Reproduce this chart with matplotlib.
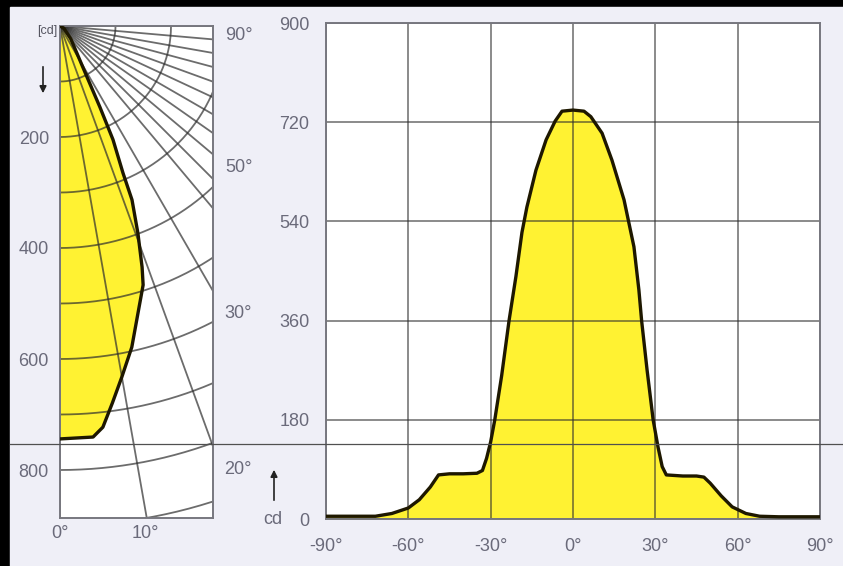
import numpy as np
import matplotlib
matplotlib.use("Agg")
import matplotlib.pyplot as plt
from matplotlib.patches import Rectangle, FancyArrowPatch
from matplotlib.lines import Line2D

plt.rcParams['font.family'] = ['Liberation Sans', 'DejaVu Sans']

W, H = 843, 566

# right plot: intensity curve (cd) vs angle
angles = [-90, -80, -72, -66, -60, -56, -52, -49, -45, -40, -35, -33, -31.5, -30,
          -28.5, -26, -23.3, -20.8, -18.6, -16.8, -13.5, -9.8, -6.5, -4, 0, 4, 6.5,
          10.6, 14.2, 18.6, 22.2, 24, 25, 27, 29.2, 31, 32.5, 34, 40, 45, 47.7, 50,
          54, 58, 63, 68, 75, 90]
values = [5, 5, 5, 10, 20, 35, 58, 80, 82, 82, 83, 88, 110, 140,
          180, 260, 360, 440, 520, 566, 633, 688, 722, 740, 742, 740, 730,
          700, 651, 579, 494, 416, 360, 270, 180, 130, 95, 80, 78, 78, 76, 65,
          42, 22, 10, 5, 4, 4]
x_ticks = [-90, -60, -30, 0, 30, 60, 90]
y_ticks = [0, 180, 360, 540, 720, 900]

# left polar diagram: intensity vs angle from the vertical
theta_polar = [0, 4.6, 6.1, 7.9, 10.0, 12.6, 15.2, 17.8, 18.8, 20.6, 22.5, 23.2,
               25.0, 26.2, 27.9, 32, 40, 60, 90]
intensity_polar = [744, 743, 727, 686, 642, 593, 536, 490, 459, 399, 339, 288,
                   226, 163, 104, 57, 30, 8, 0]
ray_angles = [0, 10, 20, 30, 40, 45, 50, 55, 60, 65, 70, 75, 80, 85, 90]
arc_radii = [100, 200, 300, 400, 500, 600, 700, 800, 900]
polar_ticks = [200, 400, 600, 800]

yellow = '#fff232'
curve_col = '#1e1800'
grid_col = '#2e2e2e'
label_col = '#6a6a7a'
fs = 13

fig = plt.figure(figsize=(W / 100, H / 100), dpi=100, facecolor='black')
fig.patches.append(Rectangle((10 / W, 0), (W - 10) / W, (H - 7) / H,
                             transform=fig.transFigure, color='#efeff7', zorder=-5))


def fx(x):
    return x / W


def fy(y):
    return 1 - y / H


# ---- right cartesian plot
ax = fig.add_axes([fx(326), fy(519), (820 - 326) / W, (519 - 23) / H])
ax.fill_between(angles, 0, values, color=yellow, lw=0, zorder=1)
ax.plot(angles, values, color=curve_col, lw=2.4, zorder=3, solid_joinstyle='round')
ax.set_xlim(-90, 90)
ax.set_ylim(0, 900)
ax.set_xticks(x_ticks)
ax.set_xticklabels([f"{t}°" for t in x_ticks])
ax.set_yticks(y_ticks)
ax.grid(color=grid_col, alpha=0.6, lw=1.3)
ax.tick_params(length=0, labelsize=fs, labelcolor=label_col)
ax.tick_params(axis='x', pad=14)
ax.tick_params(axis='y', pad=12)
for s in ax.spines.values():
    s.set_color('#77777f')
    s.set_linewidth(1.4)

# ---- left polar diagram
px_per_cd = 0.555
axl = fig.add_axes([fx(60), fy(518), 153 / W, (518 - 26) / H])
axl.set_xlim(0, 153 / px_per_cd)
axl.set_ylim((518 - 26) / px_per_cd, 0)
t = np.radians(theta_polar)
r = np.array(intensity_polar)
px_ = np.concatenate([[0], r * np.sin(t)])
py_ = np.concatenate([[0], r * np.cos(t)])
axl.fill(px_, py_, color=yellow, lw=0, zorder=1)
for a in ray_angles:
    ar = np.radians(a)
    axl.plot([0, 2000 * np.sin(ar)], [0, 2000 * np.cos(ar)], color=grid_col,
             alpha=0.7, lw=1.3, zorder=2)
tt = np.linspace(0, np.pi / 2, 200)
for rr in arc_radii:
    axl.plot(rr * np.sin(tt), rr * np.cos(tt), color=grid_col, alpha=0.7, lw=1.3, zorder=2)
axl.plot(px_[1:], py_[1:], color=curve_col, lw=2.4, zorder=3, solid_joinstyle='round')
axl.set_xticks([])
axl.set_yticks(polar_ticks)
axl.tick_params(length=0, labelsize=fs, labelcolor=label_col, pad=8)
for s in axl.spines.values():
    s.set_color('#77777f')
    s.set_linewidth(1.4)

# angle labels of the polar diagram
for lab, x, y in [("90°", 225, 35), ("50°", 225, 168), ("30°", 224, 313),
                  ("20°", 224, 470)]:
    fig.text(fx(x), fy(y), lab, fontsize=fs, color=label_col, ha='left', va='center')
for lab, x in [("0°", 60), ("10°", 145)]:
    fig.text(fx(x), fy(534), lab, fontsize=fs, color=label_col, ha='center', va='center')

# unit labels and arrows
fig.text(fx(47), fy(31), "[cd]", fontsize=9, color='#555560', ha='center', va='center')
fig.patches.append(FancyArrowPatch(
    (fx(43), fy(64)), (fx(43), fy(96)), transform=fig.transFigure,
    arrowstyle='-|>', mutation_scale=10, color='#222222', lw=1.2))
fig.text(fx(273), fy(520), "cd", fontsize=fs, color=label_col, ha='center', va='center')
fig.patches.append(FancyArrowPatch(
    (fx(274), fy(503)), (fx(274), fy(467)), transform=fig.transFigure,
    arrowstyle='-|>', mutation_scale=10, color='#222222', lw=1.2))

# thin horizontal line crossing the whole picture
fig.add_artist(Line2D([fx(10), 1], [fy(444), fy(444)], color='#505050', lw=0.9,
                      transform=fig.transFigure, zorder=10))

fig.savefig("out.png", dpi=100, facecolor=fig.get_facecolor())
